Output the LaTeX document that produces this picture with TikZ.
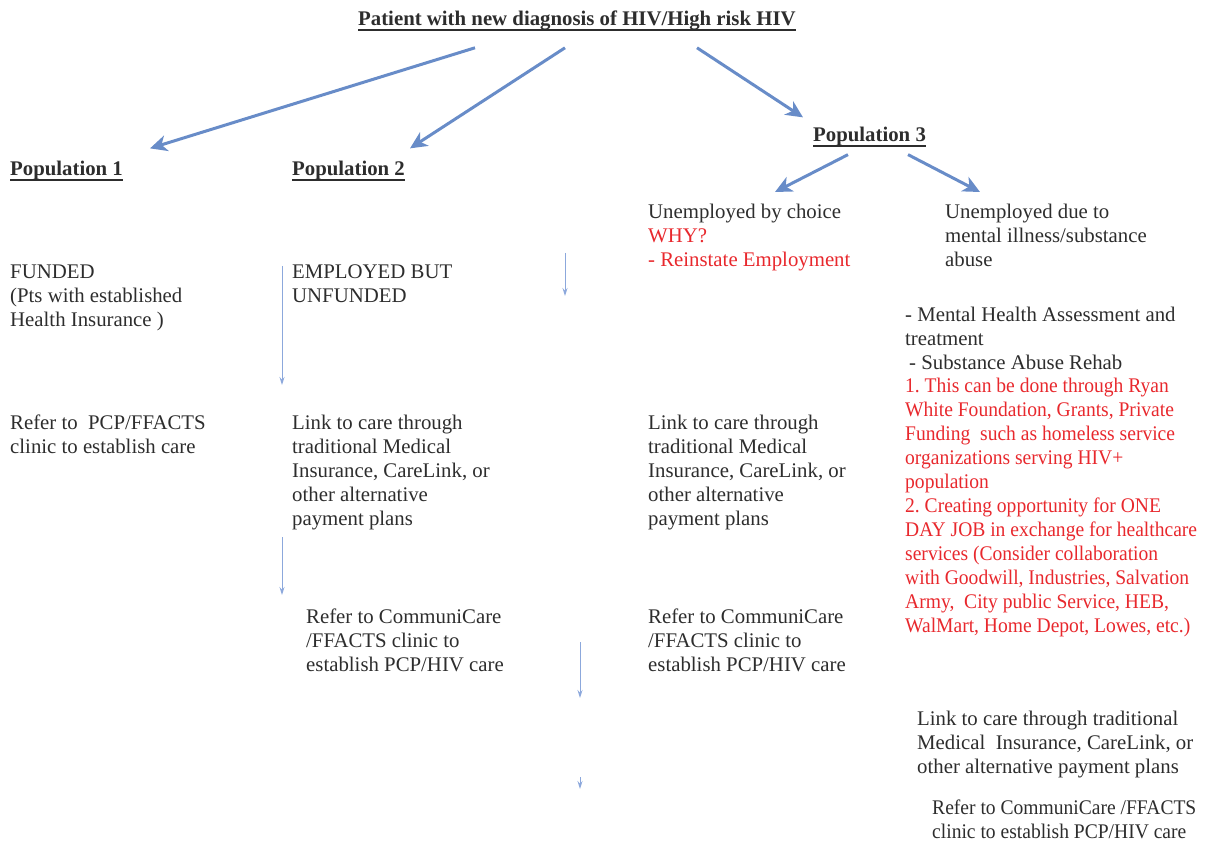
\documentclass[tikz,border=0pt]{standalone}
\usepackage{fontspec}
\setmainfont{Liberation Serif}
\newfontfamily\narrowserif[FakeStretch=0.94]{Liberation Serif}
\usetikzlibrary{arrows.meta}
\frenchspacing
\definecolor{txtgray}{RGB}{45,45,45}
\definecolor{noteRed}{RGB}{232,40,45}
\definecolor{arrowBlue}{RGB}{104,140,200}
\definecolor{thinBlue}{RGB}{140,168,220}
\tikzset{
	txt/.style={anchor=north west, align=left, inner sep=0pt, text=txtgray, font=\fontsize{20.8}{24}\selectfont},
	narrow/.style={font=\narrowserif\fontsize{20.8}{24}\selectfont},
	note/.style={txt, text=noteRed},
	head/.style={txt, anchor=base west, font=\fontsize{20.8}{24}\selectfont\bfseries},
	uline/.style={txtgray, line width=1.5pt},
	bigarrow/.style={arrowBlue, line width=3pt, -{Stealth[length=17pt,width=16pt,inset=5pt]}},
	thinarrow/.style={thinBlue, line width=1pt, -{Stealth[length=8pt,width=5pt]}},
}

\begin{document}
\begin{tikzpicture}[x=1pt,y=-1pt]
	\useasboundingbox (0,0) rectangle (1210,842);
	
	\node[head] (patient) at (358,26) {Patient with new diagnosis of HIV/High risk HIV};
	\node[head] (pop1) at (10,176) {Population 1};
	\node[head] (pop2) at (292,176) {Population 2};
	\node[head] (pop3) at (813,142) {Population 3};
	\foreach \h in {patient,pop1,pop2,pop3}
		\draw[uline] ([yshift=-4pt]\h.base west) -- ([yshift=-4pt]\h.base east);
	
	\node[txt] (choice) at (648,204) {Unemployed by choice\\ \textcolor{noteRed}{WHY?}\\ \textcolor{noteRed}{- Reinstate Employment}};
	\node[txt] (illness) at (945,204) {Unemployed due to\\ mental illness/substance\\ abuse};
	
	\node[txt] (funded) at (10,265) {FUNDED\\ (Pts with established\\ Health Insurance )};
	\node[txt] (employed) at (292,265) {EMPLOYED BUT\\ UNFUNDED};
	
	\node[txt] (rehab) at (905,307) {- Mental Health Assessment and\\ treatment\\ \hspace{4pt}- Substance Abuse Rehab};
	\node[note, narrow] (funding) at (905,378) {1. This can be done through Ryan\\ White Foundation, Grants, Private\\ Funding \ such as homeless service\\ organizations serving HIV+\\ population\\ 2. Creating opportunity for ONE\\ DAY JOB in exchange for healthcare\\ services (Consider collaboration\\ with Goodwill, Industries, Salvation\\ Army, \ City public Service, HEB,\\ WalMart, Home Depot, Lowes, etc.)};
	
	\node[txt] (refer1) at (10,415) {Refer to \ PCP/FFACTS\\ clinic to establish care};
	\node[txt] (link2) at (292,415) {Link to care through\\ traditional Medical\\ Insurance, CareLink, or\\ other alternative\\ payment plans};
	\node[txt] (link3) at (648,415) {Link to care through\\ traditional Medical\\ Insurance, CareLink, or\\ other alternative\\ payment plans};
	
	\node[txt] (refer2) at (306,609) {Refer to CommuniCare\\ /FFACTS clinic to\\ establish PCP/HIV care};
	\node[txt] (refer3) at (648,609) {Refer to CommuniCare\\ /FFACTS clinic to\\ establish PCP/HIV care};
	
	\node[txt] (link4) at (917,711) {Link to care through traditional\\ Medical \ Insurance, CareLink, or\\ other alternative payment plans};
	\node[txt, narrow] (refer4) at (932,800) {Refer to CommuniCare /FFACTS\\ clinic to establish PCP/HIV care};
	
	\draw[bigarrow] ([xshift=117pt,yshift=-17pt]patient.south west) -- ([xshift=140pt,yshift=13pt]pop1.north west);
	\draw[bigarrow] ([xshift=207pt,yshift=-17pt]patient.south west) -- ([xshift=118pt,yshift=13pt]pop2.north west);
	\draw[bigarrow] ([xshift=339pt,yshift=-17pt]patient.south west) -- ([xshift=-10pt,yshift=10pt]pop3.north west);
	\draw[bigarrow] ([xshift=35pt,yshift=-8pt]pop3.south west) -- ([xshift=127pt,yshift=12pt]choice.north west);
	\draw[bigarrow] ([xshift=95pt,yshift=-8pt]pop3.south west) -- ([xshift=35pt,yshift=12pt]illness.north west);
	
	\coordinate (gapA) at (565,253);
	\coordinate (gapB) at (565,296);
	\coordinate (gapC) at (580,642);
	\coordinate (gapD) at (580,698);
	\coordinate (gapE) at (580,777);
	\coordinate (gapF) at (580,789);
	
	\draw[thinarrow] ([xshift=-10pt,yshift=-1pt]employed.north west) -- ([xshift=-10pt,yshift=30pt]link2.north west);
	\draw[thinarrow] ([xshift=-10pt,yshift=-122pt]link2.north west) -- ([xshift=-24pt,yshift=14pt]refer2.north west);
	\draw[thinarrow] (gapA) -- (gapB);
	\draw[thinarrow] (gapC) -- (gapD);
	\draw[thinarrow] (gapE) -- (gapF);
\end{tikzpicture}
\end{document}
